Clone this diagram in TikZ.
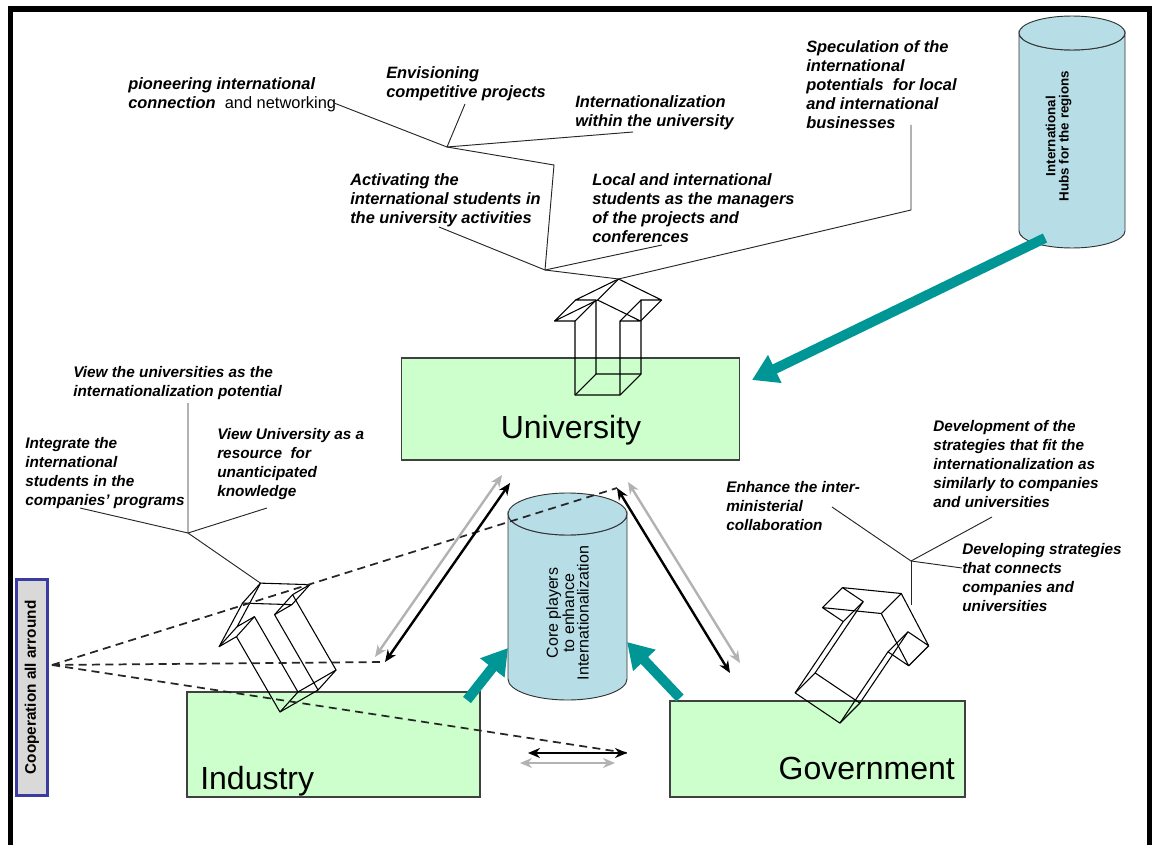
\documentclass[tikz,border=0pt]{standalone}
\usepackage{fontspec}
\setmainfont{Liberation Sans}
\usetikzlibrary{arrows.meta,positioning,calc}

\definecolor{boxgreen}{RGB}{204,255,204}
\definecolor{drumblue}{RGB}{183,222,230}
\definecolor{hubteal}{RGB}{0,150,150}
\definecolor{coopblue}{RGB}{60,60,160}
\definecolor{coopgray}{RGB}{217,217,217}

\newcommand{\notefont}{\fontsize{11.5}{14.3}\selectfont\bfseries\itshape}
\newcommand{\topfont}{\fontsize{12.3}{14.3}\selectfont\bfseries\itshape}

\newcommand{\blockarrow}[8]{%
	\begin{scope}[shift={#2}, rotate=#3]
		\coordinate (#1f1) at (-#4,0);
		\coordinate (#1f2) at (#4,0);
		\coordinate (#1f3) at (#4,-#5);
		\coordinate (#1f4) at (#6,-#5);
		\coordinate (#1f5) at (0,-#5-#7);
		\coordinate (#1f6) at (-#6,-#5);
		\coordinate (#1f7) at (-#4,-#5);
	\end{scope}
	\begin{scope}[shift={#8}, shift={#2}, rotate=#3]
		\coordinate (#1b1) at (-#4,0);
		\coordinate (#1b2) at (#4,0);
		\coordinate (#1b3) at (#4,-#5);
		\coordinate (#1b4) at (#6,-#5);
		\coordinate (#1b5) at (0,-#5-#7);
		\coordinate (#1b6) at (-#6,-#5);
		\coordinate (#1b7) at (-#4,-#5);
	\end{scope}
	\draw[wire] (#1f1) -- (#1f2) -- (#1f3) -- (#1f4) -- (#1f5) -- (#1f6) -- (#1f7) -- cycle;
	\draw[wire] (#1b1) -- (#1b2) -- (#1b3) -- (#1b4) -- (#1b5) -- (#1b6) -- (#1b7) -- cycle;
	\foreach \k in {1,...,7} {\draw[wire] (#1f\k) -- (#1b\k);}
}

\tikzset{
	note/.style={anchor=north west, align=left, inner sep=0pt, font=\notefont},
	topnote/.style={note, font=\topfont},
	leader/.style={draw=black!85, line width=0.7pt},
	greenbox/.style={draw=black!75, line width=0.8pt, fill=boxgreen, inner sep=0pt, outer sep=0pt},
	biglabel/.style={inner sep=0pt, font=\fontsize{24}{26}\selectfont},
	drum/.style={draw=black!80, line width=0.7pt, fill=drumblue},
	drumtext/.style={rotate=90, align=center, inner sep=0pt},
	coopbox/.style={draw=coopblue, line width=2.2pt, fill=coopgray, inner sep=0pt, font=\fontsize{11.5}{13}\selectfont\bfseries},
	wire/.style={draw=black, line width=0.8pt, line join=round},
	push/.style={draw=hubteal, line width=7.5pt, -{Triangle[length=19pt, width=22pt]}},
	link/.style={line width=1.8pt, {Stealth[length=9pt, width=7.5pt]}-{Stealth[length=9pt, width=7.5pt]}},
	fadelink/.style={link, draw=black!30},
	cooper/.style={draw=black!85, line width=1.3pt, dash pattern=on 6pt off 4pt}
}

\begin{document}
\begin{tikzpicture}[x=0.75pt, y=-0.75pt]
	\useasboundingbox (0,0) rectangle (1152,845);
	\draw[line width=4.2pt] (10.5,845) -- (10.5,9) -- (1149.5,9) -- (1149.5,845);

	\node[greenbox, minimum width=254pt, minimum height=76.5pt] (univ) at (570.5,409) {};
	\node[greenbox, minimum width=219.75pt, minimum height=78.75pt] (ind) at (333.5,744.5) {};
	\node[greenbox, minimum width=221.25pt, minimum height=72pt] (gov) at (817.5,749) {};
	\node[biglabel] (univlabel) at (571,430) {University};
	\node[biglabel, anchor=west] (indlabel) at (200,781) {Industry};
	\node[biglabel, anchor=east] (govlabel) at (955,768) {Government};
	\node[coopbox, rotate=90, minimum width=162pt, minimum height=23.25pt] (coop) at (32,687.5) {Cooperation all arround};

	\draw[drum] (508,514) -- (508,679) arc[start angle=180, end angle=0, x radius=59.5, y radius=21] -- (627,514) arc[start angle=0, end angle=180, x radius=59.5, y radius=21] -- cycle;
	\draw[drum] (567.5,514) ellipse[x radius=59.5, y radius=21];
	\node[drumtext, font=\fontsize{12}{11}\selectfont] (core) at (567.5,613) {Core players\\to enhance\\Internationalization};

	\draw[drum] (1019,33) -- (1019,231) arc[start angle=180, end angle=0, x radius=53, y radius=17] -- (1125,33) arc[start angle=0, end angle=180, x radius=53, y radius=17] -- cycle;
	\draw[drum] (1072,33) ellipse[x radius=53, y radius=17];
	\node[drumtext, font=\fontsize{10}{10}\selectfont\bfseries] (hubs) at (1058.5,136) {International\\Hubs for the regions};

	\blockarrow{ua}{(597.5,395)}{0}{22.5}{74}{43}{21}{(21,-21)}
	\blockarrow{ia}{(299,701)}{30}{22}{87}{42}{26}{(18,-20)}
	\blockarrow{ga}{(817.5,708)}{-34}{27}{86}{52}{28}{(20,-20)}

	\coordinate (lu1) at (510,483);
	\coordinate (li1) at (385,662);
	\coordinate (lu2) at (502,475);
	\coordinate (li2) at (375,657);
	\coordinate (ru1) at (617,488);
	\coordinate (rg1) at (730,673);
	\coordinate (ru2) at (628,482);
	\coordinate (rg2) at (740,663);
	\coordinate (bi1) at (528,753);
	\coordinate (bg1) at (627,753);
	\coordinate (bi2) at (520,763);
	\coordinate (bg2) at (615,763);
	\coordinate (coopeye) at (52,665);
	\draw[cooper] (coopeye) -- (ru1);
	\draw[cooper] (coopeye) -- (li1);
	\draw[cooper] (coopeye) -- (bg1);
	\draw[fadelink] (lu2) -- (li2);
	\draw[link] (lu1) -- (li1);
	\draw[fadelink] (ru2) -- (rg2);
	\draw[link] (ru1) -- (rg1);
	\draw[link] (bi1) -- (bg1);
	\draw[fadelink] (bi2) -- (bg2);

	\coordinate (hubsfoot) at (1045,238);
	\coordinate (univin) at (752,380);
	\coordinate (indout) at (467,700);
	\coordinate (corein1) at (508,648);
	\coordinate (govout) at (680,698);
	\coordinate (corein2) at (627,642);
	\draw[push] (hubsfoot) -- (univin);
	\draw[push] (indout) -- (corein1);
	\draw[push] (govout) -- (corein2);

	\node[topnote] (pioneer) at (128,77) {pioneering international\\connection\ \ {\upshape\mdseries and networking}};
	\node[topnote] (envision) at (386,66) {Envisioning\\competitive projects};
	\node[topnote] (within) at (575,95) {Internationalization\\within the university};
	\node[topnote] (specul) at (806,40) {Speculation of the\\international\\potentials\ \ for local\\and international\\businesses};
	\node[topnote] (activ) at (350,173) {Activating the\\international students in\\the university activities};
	\node[topnote] (managers) at (592,173) {Local and international\\students as the managers\\of the projects and\\conferences};

	\node[note] (potential) at (73,366) {View the universities as the\\internationalization potential};
	\node[note] (integrate) at (25,437) {Integrate the\\international\\students in the\\companies' programs};
	\node[note] (resource) at (217,428) {View University as a\\resource\ \ for\\unanticipated\\knowledge};

	\node[note] (fitting) at (933,420) {Development of the\\strategies that fit the\\internationalization as\\similarly to companies\\and universities};
	\node[note] (ministry) at (726,481) {Enhance the inter-\\ministerial\\collaboration};
	\node[note] (connects) at (962,543) {Developing strategies\\that connects\\companies and\\universities};

	\coordinate (pioneerfoot) at (334,103);
	\coordinate (envisionfoot) at (465,104);
	\coordinate (withinfoot) at (633,132);
	\coordinate (j1) at (447,147);
	\coordinate (kink) at (554,165);
	\coordinate (j2) at (545,270);
	\coordinate (activfoot) at (439,227);
	\coordinate (managersfoot) at (662,245);
	\coordinate (speculfoot) at (911,125);
	\coordinate (speculbend) at (911,210);
	\draw[leader] (pioneerfoot) -- (j1) -- (withinfoot);
	\draw[leader] (envisionfoot) -- (j1) -- (kink) -- (j2);
	\draw[leader] (activfoot) -- (j2) -- (managersfoot);
	\draw[leader] (j2) -- (uab5) -- (speculbend) -- (speculfoot);

	\coordinate (j3) at (188,533);
	\coordinate (potentialfoot) at (188,403);
	\coordinate (integratefoot) at (80,508);
	\coordinate (resourcefoot) at (267,508);
	\draw[leader] (potentialfoot) -- (j3) -- (iab5);
	\draw[leader] (integratefoot) -- (j3) -- (resourcefoot);

	\coordinate (j4) at (911,561);
	\coordinate (ministryfoot) at (832,507);
	\coordinate (fittingfoot) at (992,517);
	\coordinate (connectsfoot) at (962,568);
	\coordinate (gafoot) at (911,605);
	\draw[leader] (ministryfoot) -- (j4) -- (fittingfoot);
	\draw[leader] (j4) -- (connectsfoot);
	\draw[leader] (j4) -- (gafoot);
\end{tikzpicture}
\end{document}
